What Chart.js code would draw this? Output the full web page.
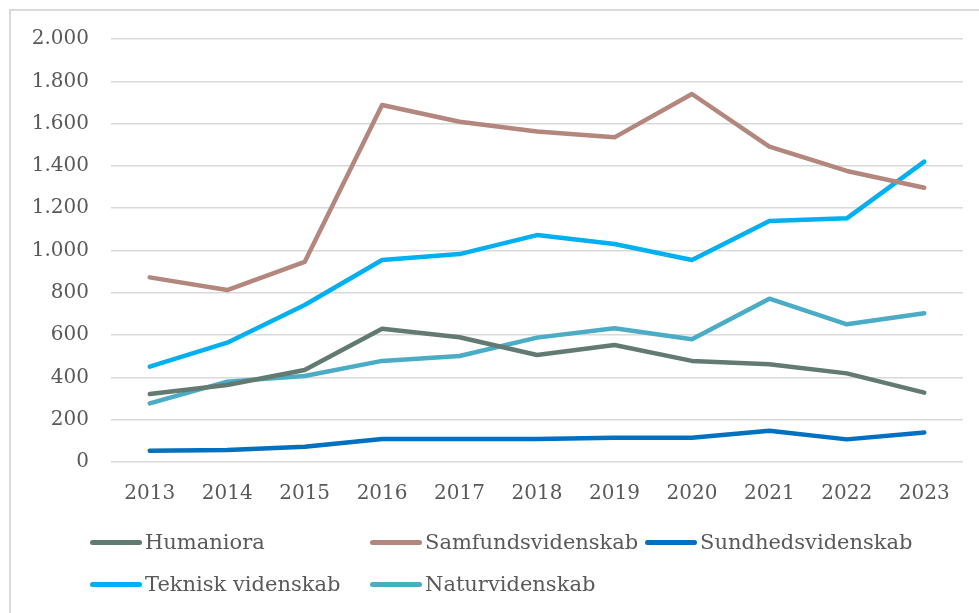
<!DOCTYPE html>
<html>
<head>
<meta charset="utf-8">
<script src="https://cdn.jsdelivr.net/npm/chart.js@4.4.1/dist/chart.umd.min.js"></script>
<style>
  html, body { margin: 0; padding: 0; background: #fff; }
  body { width: 979px; height: 613px; position: relative; overflow: hidden; font-family: "DejaVu Serif", serif; }
  .frame { position: absolute; left: 9px; top: 9px; width: 1100px; height: 800px; border: 2px solid #d9d9d9; box-sizing: border-box; }
  #chartWrap { position: absolute; left: 0; top: 0; width: 979px; height: 613px; }
  .legend { position: absolute; left: 0; top: 0; width: 979px; height: 613px; pointer-events: none; }
  .item { position: absolute; display: flex; align-items: center; font-size: 21px; color: #595959; white-space: nowrap; }
  .swatch { width: 52px; height: 5px; border-radius: 3px; margin-right: 3px; }
</style>
</head>
<body>
<div class="frame"></div>
<div id="chartWrap"><canvas id="chart" width="979" height="613"></canvas></div>
<div class="legend" id="legend"></div>
<script>
const years = ['2013', '2014', '2015', '2016', '2017', '2018', '2019', '2020', '2021', '2022', '2023']
const humaniora = [321, 364, 435, 630, 590, 506, 553, 478, 462, 419, 328]
const samfundsvidenskab = [873, 813, 946, 1688, 1609, 1563, 1535, 1740, 1491, 1376, 1297]
const sundhedsvidenskab = [53, 57, 72, 109, 109, 109, 115, 115, 148, 107, 140]
const tekniskVidenskab = [451, 564, 742, 955, 983, 1073, 1031, 955, 1139, 1152, 1420]
const naturvidenskab = [277, 380, 407, 478, 501, 588, 632, 580, 772, 651, 703]
const yTicks = [0, 200, 400, 600, 800, 1000, 1200, 1400, 1600, 1800, 2000]
const yTickLabels = ['0', '200', '400', '600', '800', '1.000', '1.200', '1.400', '1.600', '1.800', '2.000']

const series = [
    { label: 'Humaniora', data: humaniora, color: '#627a72' },
    { label: 'Samfundsvidenskab', data: samfundsvidenskab, color: '#b3877d' },
    { label: 'Sundhedsvidenskab', data: sundhedsvidenskab, color: '#0070c0' },
    { label: 'Teknisk videnskab', data: tekniskVidenskab, color: '#00b0f0' },
    { label: 'Naturvidenskab', data: naturvidenskab, color: '#4bacc6' }
]

// legend positions mimic the Excel two-row layout
const legendSpots = [[90, 544], [370, 544], [645, 544], [90, 586], [370, 586]]

const ctx = document.getElementById('chart').getContext('2d')
new Chart(ctx, {
    type: 'line',
    data: {
        labels: years,
        datasets: series.map(s => ({
            label: s.label,
            data: s.data,
            borderColor: s.color,
            backgroundColor: s.color,
            borderWidth: 4.5,
            borderCapStyle: 'round',
            borderJoinStyle: 'round',
            pointRadius: 0,
            tension: 0
        }))
    },
    options: {
        responsive: false,
        animation: false,
        layout: { padding: { top: 39, right: 16, left: 0, bottom: 0 } },
        plugins: {
            legend: { display: false },
            tooltip: { enabled: false }
        },
        scales: {
            x: {
                offset: true,
                grid: { display: false, drawTicks: false },
                border: { display: false },
                ticks: {
                    color: '#595959',
                    font: { family: 'DejaVu Serif', size: 20 },
                    padding: 20,
                    maxRotation: 0
                },
                afterFit: (scale) => { scale.height = 151 }
            },
            y: {
                min: 0,
                max: 2000,
                afterBuildTicks: (scale) => { scale.ticks = yTicks.map(v => ({ value: v })) },
                grid: { color: '#d9d9d9', lineWidth: 1.5, drawTicks: false },
                border: { display: false },
                ticks: {
                    color: '#595959',
                    font: { family: 'DejaVu Serif', size: 20 },
                    padding: 22,
                    callback: (value) => yTickLabels[yTicks.indexOf(value)]
                },
                afterFit: (scale) => { scale.width = 111 }
            }
        }
    }
})

const legendEl = document.getElementById('legend')
series.forEach((s, i) => {
    const item = document.createElement('div')
    item.className = 'item'
    item.style.left = legendSpots[i][0] + 'px'
    item.style.top = (legendSpots[i][1] - 14) + 'px'
    const sw = document.createElement('span')
    sw.className = 'swatch'
    sw.style.background = s.color
    const txt = document.createElement('span')
    txt.textContent = s.label
    item.appendChild(sw)
    item.appendChild(txt)
    legendEl.appendChild(item)
})
</script>
</body>
</html>
